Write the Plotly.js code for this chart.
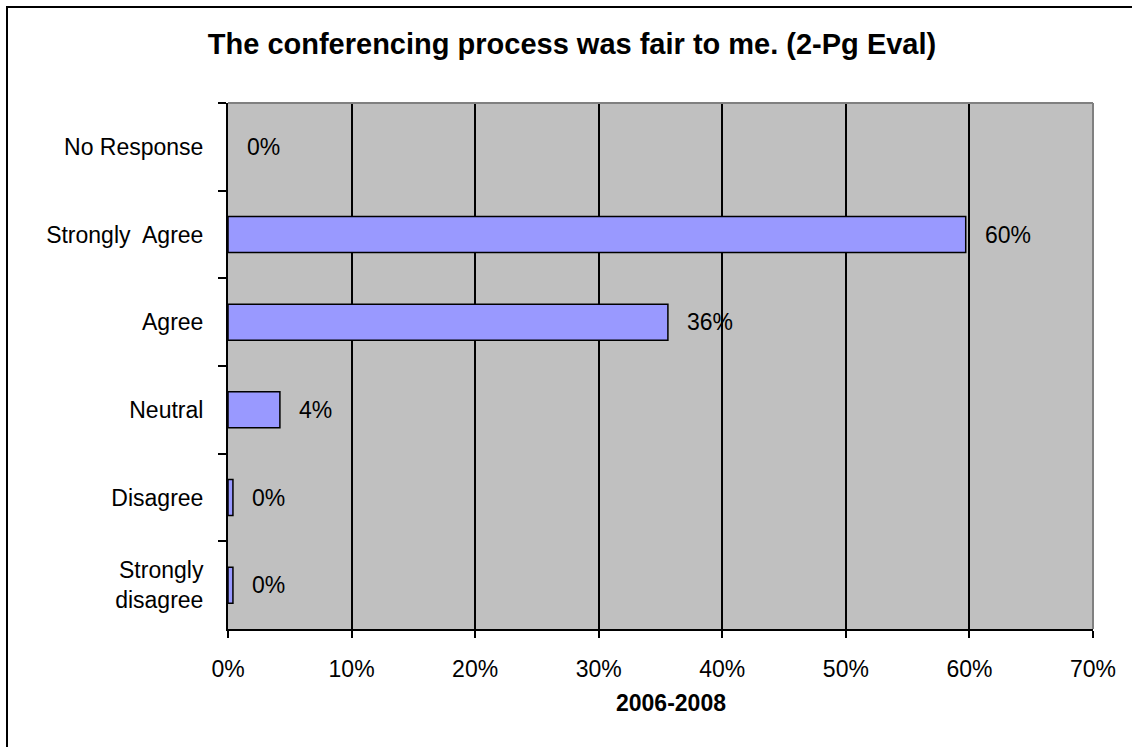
<!DOCTYPE html>
<html>
<head>
<meta charset="utf-8">
<script src="https://cdn.plot.ly/plotly-3.0.1.min.js"></script>
<style>
  html, body { margin: 0; padding: 0; background: #ffffff; }
  #chart { width: 1132px; height: 747px; }
</style>
</head>
<body>
<div id="chart"></div>
<script>
// Survey responses, listed top to bottom
const categories = ['No Response', 'Strongly  Agree', 'Agree', 'Neutral', 'Disagree', 'Strongly<br>disagree'];
const shares = [0, 0.597, 0.356, 0.042, 0.004, 0.004];
const xTickVals = [0, 0.1, 0.2, 0.3, 0.4, 0.5, 0.6, 0.7];

const chartTitle = 'The conferencing process was fair to me. (2-Pg Eval)';
const xAxisTitle = '2006-2008';

const W = 1132, H = 747;
const M = { l: 228, r: 39, t: 103, b: 118 };
const plotW = W - M.l - M.r, plotH = H - M.t - M.b;
const FONT = 'Liberation Sans, Arial, sans-serif';

// paper-coordinate helpers for items placed outside the plot area
const px2x = p => (p - M.l) / plotW;
const px2y = p => (H - M.b - p) / plotH;

const trace = {
  type: 'bar',
  orientation: 'h',
  x: shares,
  y: categories,
  marker: {
    color: '#9999FF',
    // empty bars get no outline
    line: { color: '#000000', width: shares.map(v => (v > 0 ? 1.5 : 0)) }
  },
  hoverinfo: 'x+y',
  cliponaxis: false
};

// value labels to the right of each bar
const labels = categories.map((c, i) => ({
  x: shares[i], y: c, xref: 'x', yref: 'y',
  text: Math.round(shares[i] * 100) + '%',
  showarrow: false, xanchor: 'left', yanchor: 'middle', xshift: 17,
  font: { family: FONT, size: 23, color: '#000000' }
}));

// x-axis caption under the tick labels
labels.push({
  x: px2x(671), y: px2y(703), xref: 'paper', yref: 'paper',
  text: '<b>' + xAxisTitle + '</b>',
  showarrow: false, xanchor: 'center', yanchor: 'middle',
  font: { family: FONT, size: 23, color: '#000000' }
});

const layout = {
  width: W, height: H,
  margin: M,
  paper_bgcolor: '#ffffff',
  plot_bgcolor: '#C0C0C0',
  showlegend: false,
  bargap: 0.59,
  font: { family: FONT, size: 23, color: '#000000' },
  title: {
    text: '<b>' + chartTitle + '</b>',
    font: { family: FONT, size: 29, color: '#000000' },
    x: 572 / W, xref: 'container', xanchor: 'center',
    y: 1 - 44 / H, yref: 'container', yanchor: 'middle'
  },
  xaxis: {
    range: [0, 0.7],
    tickvals: xTickVals,
    tickformat: '.0%',
    showgrid: true, gridcolor: '#000000', gridwidth: 2,
    zeroline: false,
    showline: true, linecolor: '#000000', linewidth: 2,
    ticks: 'outside', ticklen: 7, tickwidth: 2, tickcolor: '#000000',
    tickfont: { family: FONT, size: 23, color: '#000000' },
    ticklabelstandoff: 11,
    fixedrange: true
  },
  yaxis: {
    type: 'category',
    autorange: 'reversed',
    tickson: 'boundaries',
    showgrid: false, zeroline: false,
    showline: true, linecolor: '#000000', linewidth: 2,
    ticks: 'outside', ticklen: 8, tickwidth: 2, tickcolor: '#000000',
    tickfont: { family: FONT, size: 23, color: '#000000' },
    ticklabelstandoff: 18,
    fixedrange: true
  },
  annotations: labels,
  shapes: [
    // grey top and right edges of the plot area
    { type: 'line', xref: 'paper', yref: 'paper', x0: 0, x1: 1, y0: 1, y1: 1, line: { color: '#808080', width: 2 } },
    { type: 'line', xref: 'paper', yref: 'paper', x0: 1, x1: 1, y0: 0, y1: 1, line: { color: '#808080', width: 2 } },
    // outer chart frame
    { type: 'rect', xref: 'paper', yref: 'paper', layer: 'above',
      x0: px2x(7), x1: px2x(1140), y0: px2y(752), y1: px2y(7),
      line: { color: '#000000', width: 2 }, fillcolor: 'rgba(0,0,0,0)' }
  ]
};

Plotly.newPlot('chart', [trace], layout, { displayModeBar: false, staticPlot: true });
</script>
</body>
</html>
